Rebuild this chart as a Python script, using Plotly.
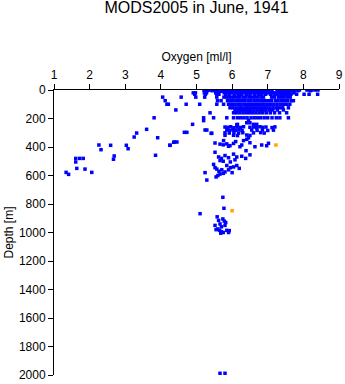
import plotly.graph_objects as go

# Depth levels [m] and the oxygen values [ml/l] observed at each (blue casts)
depth_levels = [0, 5, 10, 20, 30, 50, 75, 100, 125, 140, 160, 195]
oxygen_by_level = [
    [5.21, 5.26, 5.33, 5.39, 5.47, 5.52, 5.58, 5.66, 5.71, 5.79, 5.91, 5.97, 6.05, 6.11, 6.19, 6.24,
     6.33, 6.38, 6.46, 6.53, 6.58, 6.67, 6.72, 6.81, 6.86, 6.95, 7.03, 7.26, 7.31, 7.39, 7.47, 7.55,
     7.61, 7.70, 7.82, 7.89, 8.10, 8.16, 8.24, 8.33, 8.41],
    [5.30, 5.44, 5.62, 5.75, 5.94, 6.08, 6.27, 6.41, 6.62, 6.76, 6.90, 7.00, 7.35, 7.52, 7.66, 7.85, 8.20],
    [5.24, 5.55, 5.69, 5.86, 6.01, 6.15, 6.30, 6.49, 6.56, 6.70, 6.84, 6.99, 7.12, 7.29, 7.43, 7.58, 7.74],
    [4.91, 4.97, 5.22, 5.28, 5.54, 5.60, 5.78, 5.85, 5.95, 6.03, 6.12, 6.20, 6.29, 6.37, 6.44, 6.52,
     6.61, 6.69, 6.78, 6.87, 6.96, 7.05, 7.13, 7.22, 7.31, 7.40, 7.49, 7.60, 7.72],
    [4.95, 5.25, 5.57, 5.63, 5.82, 5.92, 6.06, 6.17, 6.26, 6.40, 6.50, 6.63, 6.74, 6.83, 6.94, 7.08,
     7.18, 7.27, 7.37, 7.46, 7.56, 7.65, 7.81, 8.02, 8.16, 8.40],
    [4.05, 4.57, 4.98, 5.23, 5.57, 5.77, 5.84, 5.91, 5.99, 6.06, 6.15, 6.22, 6.31, 6.39, 6.48, 6.55,
     6.63, 6.72, 6.81, 6.88, 7.11, 7.19, 7.30, 7.38, 7.46, 7.55, 7.63],
    [4.12, 5.59, 5.69, 5.87, 5.95, 6.03, 6.12, 6.20, 6.29, 6.36, 6.45, 6.53, 6.62, 6.70, 6.78, 6.86,
     6.93, 7.02, 7.10, 7.21, 7.29, 7.38, 7.47, 7.56, 7.66, 7.72],
    [4.17, 4.21, 4.71, 5.09, 5.57, 5.76, 5.90, 5.98, 6.07, 6.16, 6.24, 6.33, 6.41, 6.49, 6.57, 6.66,
     6.74, 6.83, 6.90, 6.99, 7.08, 7.17, 7.26, 7.35, 7.44, 7.53, 7.62],
    [5.94, 6.02, 6.11, 6.20, 6.28, 6.37, 6.46, 6.54, 6.63, 6.71, 6.80, 6.88, 6.97, 7.06, 7.15, 7.24,
     7.33, 7.42, 7.58],
    [4.42, 6.08, 6.17, 6.26, 6.35, 6.44, 6.52, 6.61, 6.70, 6.79, 6.87, 6.95, 7.05, 7.14, 7.27, 7.44],
    [5.38, 6.04, 6.13, 6.22, 6.31, 6.40, 6.49, 6.58, 6.67, 6.76, 6.86, 6.96, 7.07, 7.19, 7.33, 7.53],
    [3.81, 5.20, 5.48, 5.85, 6.04, 6.15, 6.24, 6.33, 6.42, 6.53, 6.62, 6.71, 6.80, 6.90, 7.00, 7.12,
     7.24, 7.34, 7.58],
]

# Scattered deeper observations (blue): oxygen [ml/l], depth [m]
deep_oxygen = [
    5.20, 6.46, 6.41, 6.50, 4.89, 6.15, 6.60, 6.69, 6.13,
    4.66, 4.73, 5.29, 5.43, 5.80, 5.88, 5.96, 6.05, 6.14, 6.23, 6.32, 6.50, 6.60, 6.69, 6.78, 6.86, 6.95, 7.12, 7.20,
    3.60, 5.24, 5.85, 5.93, 6.02, 6.10, 6.19, 6.28, 6.55, 6.70, 6.85, 7.00, 7.16,
    3.32, 5.41, 5.80, 5.92, 6.05, 6.18, 6.30, 6.60, 6.80, 6.90,
    3.25, 5.80, 6.04, 6.15, 6.41, 6.50, 3.91, 6.46,
    4.26, 4.36, 4.45, 4.38, 4.25, 3.03, 2.59, 2.26, 5.52, 5.66, 5.75, 5.85, 5.94, 6.04, 6.27, 6.22,
    6.32, 6.41, 6.50, 6.64, 6.83, 6.97, 7.02, 5.76, 5.90, 6.10,
    3.08, 2.32, 5.52, 6.39,
    3.85, 2.69, 2.67, 1.61, 1.72, 1.82, 1.61, 5.62, 5.70, 5.80, 5.66, 5.75, 6.04, 6.13, 6.08, 6.27, 6.38, 6.50, 5.90, 5.95,
    1.64, 1.87, 2.06, 1.34, 1.41,
    5.48, 5.52, 5.57, 5.63, 5.71, 5.85, 5.95, 6.04, 6.13, 5.66, 5.60, 5.75, 5.80, 5.90, 6.20, 6.00, 5.24, 5.55,
    5.29, 5.74, 5.77, 5.10,
    5.52, 5.58, 5.62, 5.66, 5.70, 5.74, 5.78, 5.82, 5.60, 5.65, 5.70, 5.75, 5.85, 5.55, 5.80, 5.68, 5.90, 5.92,
    5.66, 5.80,
]
deep_depth = [
    215, 215, 230, 230, 241, 241, 241, 241, 245,
    297, 297, 281, 304, 260, 262, 258, 265, 260, 263, 258, 262, 260, 265, 258, 262, 260, 264, 259,
    276, 281, 281, 284, 279, 283, 280, 285, 281, 283, 280, 284, 282,
    302, 304, 300, 302, 299, 303, 300, 301, 299, 302,
    330, 318, 318, 320, 316, 319, 335, 336,
    388, 367, 365, 365, 388, 388, 388, 386, 372, 380, 385, 378, 390, 375, 386, 398,
    355, 346, 370, 398, 386, 391, 374, 355, 395, 362,
    412, 419, 437, 426,
    458, 463, 486, 480, 480, 480, 505, 470, 480, 460, 495, 500, 450, 470, 490, 465, 480, 455, 475, 505,
    550, 555, 578, 578, 592,
    522, 545, 555, 570, 560, 530, 545, 540, 530, 590, 600, 585, 575, 560, 550, 580, 580, 610,
    632, 753, 830, 868,
    950, 890, 915, 940, 960, 905, 920, 930, 975, 985, 995, 1000, 985, 980, 950, 1005, 1000, 987,
    1988, 1988,
]

# Highlighted (orange) observations
flag_oxygen = [7.23, 6.00]
flag_depth = [386, 847]

x_ticks = [1, 2, 3, 4, 5, 6, 7, 8, 9]
y_ticks = [0, 200, 400, 600, 800, 1000, 1200, 1400, 1600, 1800, 2000]

blue_x, blue_y = [], []
for d, vals in zip(depth_levels, oxygen_by_level):
    blue_x.extend(vals)
    blue_y.extend([d] * len(vals))
blue_x += deep_oxygen
blue_y += deep_depth

FAM = "Liberation Sans, Arial, sans-serif"
font = dict(family=FAM, size=12, color="black")

fig = go.Figure()
fig.add_trace(go.Scatter(x=blue_x, y=blue_y, mode="markers",
                         marker=dict(symbol="square", size=3.5, color="#0000FF", line=dict(width=0)),
                         hoverinfo="x+y", showlegend=False))
fig.add_trace(go.Scatter(x=flag_oxygen, y=flag_depth, mode="markers",
                         marker=dict(symbol="square", size=3.5, color="#FFA500", line=dict(width=0)),
                         hoverinfo="x+y", showlegend=False))

fig.update_layout(
    width=345, height=384,
    margin=dict(l=54, r=6, t=90, b=9, autoexpand=False),
    paper_bgcolor="white", plot_bgcolor="white",
    font=font,
    title=dict(text="MODS2005 in June, 1941", x=0.5, xref="paper", xanchor="center",
               y=1 - 7 / 384, yref="container", yanchor="middle",
               font=dict(family=FAM, size=16, color="black")),
    xaxis=dict(side="top", range=[1, 9], tickvals=x_ticks, ticktext=[str(v) for v in x_ticks],
               showline=True, linecolor="black", linewidth=1, ticks="outside", ticklen=5,
               tickcolor="black", showgrid=False, zeroline=False, tickfont=font,
               title=dict(text="Oxygen [ml/l]", standoff=4, font=font)),
    yaxis=dict(range=[2000, 0], tickvals=y_ticks, ticktext=[str(v) for v in y_ticks],
               showline=True, linecolor="black", linewidth=1, ticks="outside", ticklen=5,
               tickcolor="black", showgrid=False, zeroline=False, tickfont=font,
               title=dict(text="Depth [m]", standoff=2, font=font)),
)

fig.write_html("out.html")
